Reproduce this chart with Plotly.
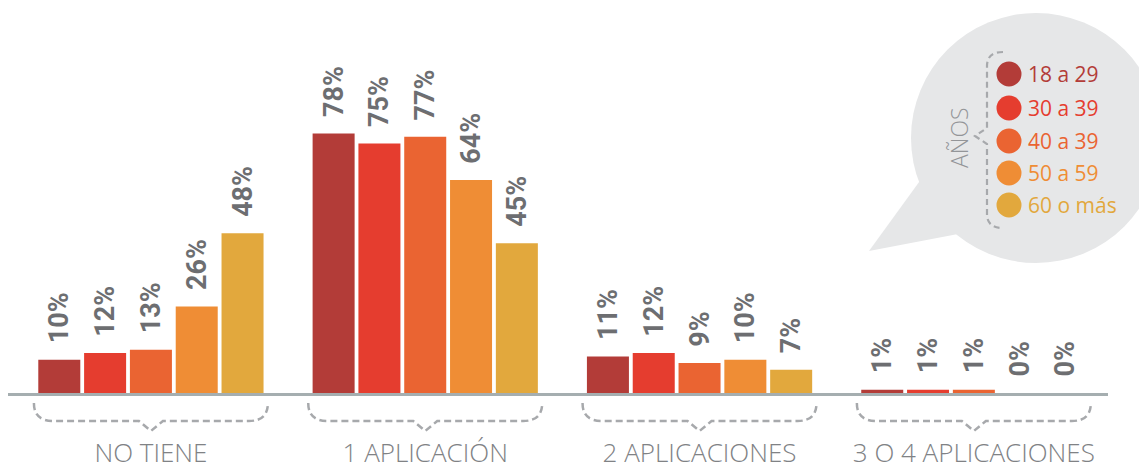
import plotly.graph_objects as go

# ---- data ----
categories = ["NO TIENE", "1 APLICACIÓN", "2 APLICACIONES", "3 O 4 APLICACIONES"]
series_names = ["18 a 29", "30 a 39", "40 a 39", "50 a 59", "60 o más"]
v_18_29 = [10, 78, 11, 1]
v_30_39 = [12, 75, 12, 1]
v_40_39 = [13, 77, 9, 1]
v_50_59 = [26, 64, 10, 0]
v_60_mas = [48, 45, 7, 0]
series_values = [v_18_29, v_30_39, v_40_39, v_50_59, v_60_mas]
colors = ["#B33C38", "#E53D2F", "#EA6432", "#EF8D35", "#E2A83D"]

# page has an 8px body margin: the figure starts at page (8, 8)
OX, OY = 8, 8
W, H = 1139, 462
L, R, T, B = 0, 39, 19, 77
PW, PH = W - L - R, H - T - B
XR = [-0.521, 3.489]
YR = [0, 110]


def px(x):  # page pixel -> paper
    return (x - OX - L) / PW


def py(y):
    return (H - B - (y - OY)) / PH


def data_to_px(xd):  # data x -> page pixel
    return OX + L + (xd - XR[0]) / (XR[1] - XR[0]) * PW


fig = go.Figure()
for name, vals, col in zip(series_names, series_values, colors):
    fig.add_trace(go.Bar(
        x=list(range(len(categories))), y=vals, name=name,
        marker=dict(color=col, line=dict(width=0)),
        texttemplate="\u00a0\u00a0%{y}%", textposition="outside", textangle=-90,
        constraintext="none",
        textfont=dict(family="Roboto", size=27, color="#6D6E71", weight="bold"),
        cliponaxis=False, showlegend=False,
    ))

shapes = []
annotations = []


def P(x, y):
    return f"{px(x):.5f},{py(y):.5f}"


# group braces under each category
dash = dict(color="#A7A9AC", width=2.5, dash="7px,4px")
for i in range(len(categories)):
    c = data_to_px(i)
    path = (
        f"M {P(c-117, 403)} Q {P(c-117, 421)} {P(c-98, 421)} "
        f"L {P(c-12, 421)} L {P(c, 431)} L {P(c+12, 421)} L {P(c+98, 421)} "
        f"Q {P(c+117, 421)} {P(c+117, 403)}"
    )
    shapes.append(dict(type="path", path=path, xref="paper", yref="paper",
                       line=dash, layer="above"))

# speech bubble legend
bub = "#E6E7E8"
cx, cy, r = 1036, 138, 125
shapes.append(dict(type="circle", xref="paper", yref="paper",
                   x0=px(cx - r), x1=px(cx + r), y0=py(cy + r), y1=py(cy - r),
                   fillcolor=bub, line=dict(width=0), layer="below"))
tail = f"M {P(869, 251)} L {P(922, 178)} L {P(958, 234)} Z"
shapes.append(dict(type="path", path=tail, xref="paper", yref="paper",
                   fillcolor=bub, line=dict(width=0), layer="below"))

# legend brace
bx = 987
lb = (f"M {P(1003, 52)} Q {P(bx, 52)} {P(bx, 66)} "
      f"L {P(bx, 128)} L {P(975, 136)} L {P(bx, 144)} "
      f"L {P(bx, 214)} Q {P(bx, 228)} {P(1003, 228)}")
shapes.append(dict(type="path", path=lb, xref="paper", yref="paper",
                   line=dict(color="#A7A9AC", width=2.2, dash="6px,4px")))

annotations.append(dict(text="AÑOS", x=px(959), y=py(138), xref="paper", yref="paper",
                        xanchor="center", yanchor="middle",
                        showarrow=False, textangle=-90,
                        font=dict(family="Open Sans", size=23, color="#939598", weight=300)))

ys = [74, 108, 141, 173, 205]
for name, col, yy in zip(series_names, colors, ys):
    rr = 12.5
    shapes.append(dict(type="circle", xref="paper", yref="paper",
                       x0=px(1009 - rr), x1=px(1009 + rr), y0=py(yy + rr), y1=py(yy - rr),
                       fillcolor=col, line=dict(width=0), layer="above"))
    annotations.append(dict(text=name, x=px(1026), y=py(yy), xref="paper", yref="paper",
                            xanchor="left", yanchor="middle", showarrow=False,
                            font=dict(family="Open Sans", size=21, color=col)))

fig.update_layout(
    width=W, height=H,
    margin=dict(l=L, r=R, t=T, b=B, pad=0, autoexpand=False),
    paper_bgcolor="white", plot_bgcolor="white",
    barmode="group", bargap=0.165, bargroupgap=0.083,
    shapes=shapes, annotations=annotations,
    xaxis=dict(range=XR, tickvals=list(range(len(categories))), ticktext=categories,
               showgrid=False, zeroline=False, showline=True, linecolor="#A5AEB0",
               linewidth=2.5, ticks="", ticklabelstandoff=35, automargin=False,
               tickfont=dict(family="Open Sans", size=26, color="#808285", weight=300)),
    yaxis=dict(range=YR, visible=False, showgrid=False, zeroline=False, automargin=False),
)

fig.write_html("out.html")
